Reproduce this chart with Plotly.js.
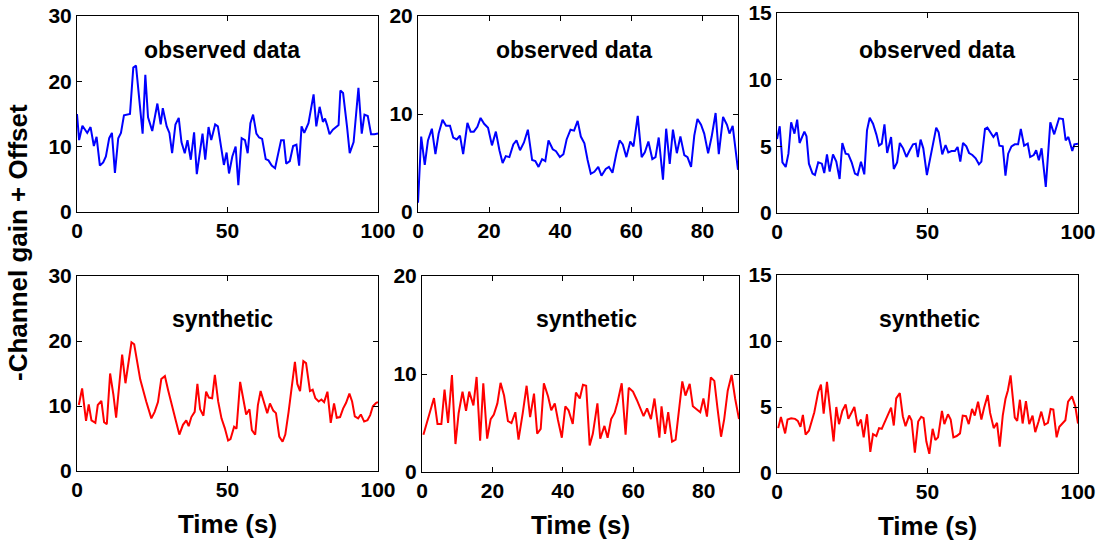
<!DOCTYPE html>
<html>
<head>
<meta charset="utf-8">
<script src="https://cdn.plot.ly/plotly-3.0.1.min.js"></script>
<style>html,body{margin:0;padding:0;background:#fff;}#chart{width:1104px;height:548px;}</style>
</head>
<body>
<div id="chart"></div>
<script>
// ---------- data ----------
const obs1T = [0,0.7,1.8,2.7,3.4,4.5,5.6,6.5,7.6,8.7,9.6,10.7,11.6,12.6,13.7,14.6,15.6,17.6,18.7,19.6,20.7,21.8,22.7,23.6,25.0,26.7,27.8,28.5,29.8,30.7,31.6,32.7,33.8,34.7,35.8,36.7,37.8,38.9,39.8,41.7,42.6,43.7,44.6,45.9,46.8,47.7,48.8,49.7,50.5,51.6,52.7,53.6,54.7,55.8,56.7,57.6,58.5,59.6,60.5,61.5,62.7,63.6,64.7,65.8,66.7,67.8,68.7,69.5,70.7,71.8,72.9,73.8,74.6,75.5,76.9,77.7,78.6,79.5,80.6,81.7,82.4,83.1,83.9,85.0,86.4,86.9,87.5,88.4,89.7,90.6,91.9,93.5,94.6,95.5,96.6,97.7,98.8,100];
const obs1V = [15.0,11.0,13.2,12.6,12.1,13.0,10.1,11.5,7.1,7.6,8.5,11.3,12.1,6.0,11.3,12.1,14.8,15.0,22.1,22.4,17.7,12.0,21.0,14.5,12.4,16.6,13.4,15.9,13.1,12.1,9.0,13.4,14.4,10.7,9.0,11.0,8.0,12.2,5.8,12.0,8.0,13.0,11.0,13.4,13.1,10.5,7.2,9.1,5.9,8.5,10.0,4.1,11.3,11.0,9.0,13.6,14.9,12.0,11.4,11.2,8.1,7.9,7.1,6.7,8.9,11.0,11.0,7.4,7.8,10.1,10.3,7.1,13.1,12.1,13.6,15.5,18.0,13.1,16.1,13.8,14.3,13.3,11.9,12.6,13.1,13.3,18.6,18.2,13.1,9.0,10.7,19.0,12.0,14.9,14.7,11.9,11.9,12.0];

const obs2T = [0,0.9,1.9,2.8,3.9,4.9,5.8,6.9,7.9,9.0,9.9,10.9,11.8,12.7,13.9,14.8,15.7,16.7,17.6,18.6,19.7,20.8,21.9,22.9,23.8,24.7,25.7,26.8,27.7,28.7,29.8,30.9,32.1,33.0,33.9,34.9,35.8,36.7,37.9,38.8,39.9,40.9,41.8,42.9,43.9,44.9,45.8,46.8,47.7,48.6,49.6,50.7,51.6,52.8,53.7,54.7,55.8,56.7,57.6,58.6,59.7,60.6,61.8,62.9,63.8,64.8,65.9,66.8,67.7,68.9,69.8,70.8,71.7,72.8,73.8,74.9,75.8,76.8,77.7,78.6,79.6,80.5,81.6,82.6,83.7,84.6,85.8,86.9,87.6,88.5,90.0];
const obs2V = [0.95,7.7,4.8,7.3,8.5,5.9,8.0,9.4,8.8,8.8,7.6,7.4,7.8,5.9,9.1,8.2,8.2,8.7,9.6,9.0,8.6,6.8,8.2,6.3,5.0,5.7,5.6,6.9,7.3,6.3,7.1,8.4,5.3,5.2,4.6,5.4,5.2,7.3,6.4,6.2,5.6,5.9,7.4,8.4,8.3,9.3,7.7,7.0,5.3,3.9,4.1,4.6,3.7,4.4,4.6,4.0,6.0,7.3,6.9,5.6,7.2,6.7,9.8,5.6,6.1,7.2,5.4,5.6,7.6,3.3,8.5,4.9,8.4,6.0,7.7,5.8,5.6,4.6,7.8,9.5,8.9,8.0,6.0,7.7,10.1,5.9,9.7,8.9,8.0,8.8,4.3];

const obs3T = [0,0.9,1.8,2.9,3.8,4.7,5.8,6.7,7.5,8.4,9.1,9.8,10.6,11.8,12.6,13.7,14.9,15.7,16.6,17.5,18.6,19.7,20.8,21.7,22.8,23.7,24.8,25.9,26.8,27.9,29.0,29.9,30.8,31.9,33.0,33.9,34.8,35.7,36.6,37.9,38.8,39.9,40.8,41.9,43.0,44.1,45.2,46.1,46.8,47.7,48.6,49.8,50.7,51.7,52.9,53.7,54.9,56.0,56.9,58.0,59.1,60.0,60.9,61.8,62.9,63.8,64.9,66.0,67.1,67.9,69.1,69.9,71.1,71.9,73.0,73.9,75.0,75.9,76.8,77.9,79.0,80.1,81.0,82.1,83.3,84.1,85.3,86.1,87.0,87.9,89.3,90.8,92.1,93.7,95.0,95.9,96.8,98.1,98.8,100];
const obs3V = [5.55,6.5,3.8,3.45,4.45,6.8,5.95,7.0,5.25,5.75,6.1,5.75,3.7,2.95,2.85,3.8,3.7,3.0,4.4,3.1,4.4,3.85,2.55,5.25,4.45,4.4,3.8,2.95,2.85,3.85,2.9,6.2,7.15,6.7,5.9,5.05,5.2,6.65,4.5,5.7,3.3,3.8,5.25,4.85,4.2,4.7,5.15,5.2,4.2,5.5,4.85,2.85,3.9,4.9,6.4,6.05,4.4,5.1,4.55,4.65,4.65,4.95,3.85,5.25,5.0,4.5,4.35,4.1,3.65,3.85,6.3,6.4,5.95,5.7,6.05,5.05,5.0,2.8,4.45,5.0,5.15,5.15,6.3,5.05,5.2,4.2,4.35,4.7,3.95,4.85,1.95,6.8,5.9,7.1,7.05,5.45,5.7,4.65,5.15,5.2];

const syn1T = [0.6,1.7,3.0,3.9,4.8,6.1,6.9,8.1,9.0,9.9,11.0,12.1,13.0,15.0,16.1,17.2,18.1,19.0,21.0,23.0,24.7,25.8,26.9,28.0,29.2,30.3,31.8,32.9,34.0,35.2,36.3,37.1,38.0,39.1,40.0,40.9,42.0,42.9,43.8,44.9,45.8,46.9,48.0,49.1,50.2,51.0,52.2,53.0,54.2,55.1,56.2,57.3,58.1,59.2,60.1,61.0,62.1,63.2,64.1,65.2,66.1,67.2,68.3,69.2,70.3,71.2,72.4,73.2,74.1,75.2,76.1,77.4,78.3,79.2,80.3,81.2,82.1,83.2,84.3,85.4,86.3,87.4,88.4,89.4,90.5,91.4,92.3,93.4,94.3,95.4,96.5,97.4,98.3,99.4,100];
const syn1V = [10.15,12.7,7.7,10.25,7.8,7.4,10.15,10.8,7.5,7.2,15.0,11.7,8.2,17.9,13.5,16.8,19.8,19.5,14.1,10.7,8.1,9.1,10.6,14.15,14.6,12.4,9.85,7.6,5.6,7.1,7.8,6.9,8.3,9.1,13.4,9.5,8.5,12.2,11.3,11.2,14.8,10.7,8.1,6.6,4.7,4.9,6.8,6.5,13.7,11.2,8.7,9.5,6.3,5.6,10.15,12.3,10.5,8.9,10.4,9.3,8.9,5.3,4.5,5.6,9.1,12.2,16.8,13.4,12.3,16.9,16.6,12.3,12.5,11.2,10.7,11.0,10.6,12.2,7.4,10.4,8.2,8.3,9.6,10.5,11.9,10.7,8.4,8.1,8.7,7.6,7.8,8.6,9.95,10.5,10.6];

const syn2T = [0.4,1.3,2.3,3.4,4.4,5.5,6.4,7.4,8.5,9.5,10.4,11.5,12.5,13.4,14.6,15.5,16.5,17.4,18.5,19.5,20.4,21.4,22.3,23.3,24.4,25.4,26.5,27.4,28.6,29.7,30.7,31.8,32.7,33.7,34.6,35.8,36.7,37.7,38.6,39.7,40.7,41.6,42.8,43.7,44.8,45.7,46.6,47.6,48.5,49.8,50.6,51.8,52.7,53.7,54.7,55.5,56.7,57.8,58.7,59.9,61.0,62.2,62.9,63.9,65.0,66.0,67.4,68.0,69.0,69.9,71.0,72.0,72.9,73.9,74.8,76.0,76.9,78.1,79.0,79.9,80.9,82.0,83.0,83.9,84.9,85.8,86.8,87.9,88.9,90.0];
const syn2V = [3.8,4.9,6.0,7.55,4.9,4.9,8.4,5.0,9.9,2.85,6.0,8.2,6.25,8.2,6.8,9.7,3.2,9.05,3.4,5.4,5.85,7.0,9.1,7.8,5.2,5.0,6.1,3.3,6.0,8.8,5.6,8.0,3.9,4.4,9.05,7.7,6.3,7.0,5.3,3.5,6.7,6.3,4.9,8.1,7.5,8.9,8.8,2.7,3.9,7.0,3.4,4.7,3.5,5.4,6.05,7.1,9.05,3.8,8.6,8.2,7.35,6.2,5.7,6.5,5.4,7.5,3.5,6.7,3.9,6.1,3.1,3.3,6.3,9.25,7.8,9.0,6.7,6.3,6.1,7.5,5.65,9.65,9.3,6.5,3.6,5.4,8.3,9.9,7.5,5.4];

const syn3T = [0.4,1.3,2.7,3.5,4.7,6.0,6.9,7.8,8.6,9.5,10.6,12.4,13.7,14.6,15.5,16.6,17.7,18.8,19.7,20.6,21.7,22.8,23.7,24.8,25.7,26.8,27.9,28.8,29.9,31.0,31.9,33.0,33.9,34.8,35.9,36.8,37.9,38.8,39.6,40.8,41.8,42.7,43.9,44.7,45.8,46.9,47.9,48.7,49.6,50.6,51.7,52.6,53.5,54.8,55.6,56.8,57.7,58.6,59.7,60.8,61.7,62.8,63.7,64.8,65.7,66.8,67.9,68.8,70.0,70.8,72.0,73.1,74.0,75.0,75.9,76.7,77.6,79.0,79.8,80.7,81.6,82.7,83.8,84.9,85.8,86.9,87.8,88.9,90.0,90.9,91.8,92.9,93.8,95.8,96.7,98.0,99.1,100];
const syn3V = [3.4,4.25,3.0,4.05,4.15,4.1,3.95,3.5,4.4,2.9,3.2,4.6,6.15,6.7,4.5,6.9,4.65,2.4,5.0,3.7,4.7,5.2,4.1,4.65,5.0,3.55,4.05,2.7,4.45,1.6,2.95,2.8,3.4,3.35,3.9,4.3,4.95,3.6,5.65,6.05,4.3,3.55,4.35,4.0,1.55,3.9,4.25,4.15,2.4,1.45,3.35,2.5,2.7,4.7,3.7,4.45,4.05,2.7,2.8,3.0,4.35,4.3,3.7,4.85,4.35,5.4,4.05,4.95,5.9,4.55,3.4,3.8,2.0,4.35,5.6,6.25,7.4,4.2,3.95,5.55,3.75,5.45,3.7,4.35,3.1,3.9,4.65,3.65,3.8,4.85,4.8,2.7,3.5,4.0,5.4,5.8,5.05,3.75];

const xTicks100 = [0, 50, 100];
const xTicks90 = [0, 20, 40, 60, 80];
const yTicks30 = [0, 10, 20, 30];
const yTicks20 = [0, 10, 20];
const yTicks15 = [0, 5, 10, 15];
const panelTitleTop = 'observed data';
const panelTitleBottom = 'synthetic';
const xAxisTitle = 'Time (s)';
const yAxisTitle = '-Channel gain + Offset';

// ---------- layout helpers ----------
const W = 1104, H = 548;
const FONT = 'Liberation Sans, Arial, Helvetica, sans-serif';
const xd = (a, b) => [a / W, b / W];
const yd = (top, bottom) => [1 - bottom / H, 1 - top / H];

function axis(domain, range, tickvals, anchor, title) {
  const a = {
    domain: domain, range: range, tickvals: tickvals, ticktext: tickvals.map(String),
    anchor: anchor, ticks: 'inside', ticklen: 5, tickwidth: 1, tickcolor: '#000',
    showline: true, linecolor: '#000', linewidth: 1, mirror: 'ticks',
    showgrid: false, zeroline: false, fixedrange: true,
    tickfont: {family: FONT, size: 21, color: '#000', weight: 'bold'}
  };
  if (title) a.title = {text: title, font: {family: FONT, size: 26, color: '#000', weight: 'bold'}, standoff: 14};
  return a;
}

const blue = {color: '#0000ff', width: 2};
const red = {color: '#ff0000', width: 2};
const traces = [
  {x: obs1T, y: obs1V, xaxis: 'x', yaxis: 'y', mode: 'lines', line: blue},
  {x: obs2T, y: obs2V, xaxis: 'x2', yaxis: 'y2', mode: 'lines', line: blue},
  {x: obs3T, y: obs3V, xaxis: 'x3', yaxis: 'y3', mode: 'lines', line: blue},
  {x: syn1T, y: syn1V, xaxis: 'x4', yaxis: 'y4', mode: 'lines', line: red},
  {x: syn2T, y: syn2V, xaxis: 'x5', yaxis: 'y5', mode: 'lines', line: red},
  {x: syn3T, y: syn3V, xaxis: 'x6', yaxis: 'y6', mode: 'lines', line: red}
];

function ptitle(text, n, fx, fy) {
  const s = n === 1 ? '' : String(n);
  return {text: '<b>' + text + '</b>', xref: 'x' + s + ' domain', yref: 'y' + s + ' domain',
          x: fx, y: fy, xanchor: 'center', yanchor: 'middle', showarrow: false,
          font: {family: FONT, size: 23, color: '#000'}};
}

const layout = {
  width: W, height: H, showlegend: false,
  margin: {l: 0, r: 0, t: 0, b: 0},
  paper_bgcolor: '#fff', plot_bgcolor: '#fff',
  xaxis:  axis(xd(77, 378),  [0, 100], xTicks100, 'y'),
  yaxis:  axis(yd(16, 212),  [0, 30],  yTicks30,  'x'),
  xaxis2: axis(xd(418, 738), [0, 90],  xTicks90,  'y2'),
  yaxis2: axis(yd(16, 212),  [0, 20],  yTicks20,  'x2'),
  xaxis3: axis(xd(777, 1078),[0, 100], xTicks100, 'y3'),
  yaxis3: axis(yd(13, 213),  [0, 15],  yTicks15,  'x3'),
  xaxis4: axis(xd(77, 378),  [0, 100], xTicks100, 'y4', xAxisTitle),
  yaxis4: axis(yd(276, 471), [0, 30],  yTicks30,  'x4'),
  xaxis5: axis(xd(422, 739), [0, 90],  xTicks90,  'y5', xAxisTitle),
  yaxis5: axis(yd(276, 472), [0, 20],  yTicks20,  'x5'),
  xaxis6: axis(xd(777, 1078),[0, 100], xTicks100, 'y6', xAxisTitle),
  yaxis6: axis(yd(275, 473), [0, 15],  yTicks15,  'x6'),
  annotations: [
    ptitle(panelTitleTop, 1, 0.481, 0.826),
    ptitle(panelTitleTop, 2, 0.4875, 0.826),
    ptitle(panelTitleTop, 3, 0.531, 0.815),
    ptitle(panelTitleBottom, 4, 0.485, 0.779),
    ptitle(panelTitleBottom, 5, 0.519, 0.779),
    ptitle(panelTitleBottom, 6, 0.508, 0.778),
    {text: '<b>' + yAxisTitle + '</b>', xref: 'paper', yref: 'paper', x: 18 / W, y: 1 - 243 / H,
     xanchor: 'center', yanchor: 'middle', textangle: -90, showarrow: false,
     font: {family: FONT, size: 26, color: '#000'}}
  ]
};

Plotly.newPlot('chart', traces, layout, {staticPlot: true, displayModeBar: false});
</script>
</body>
</html>
